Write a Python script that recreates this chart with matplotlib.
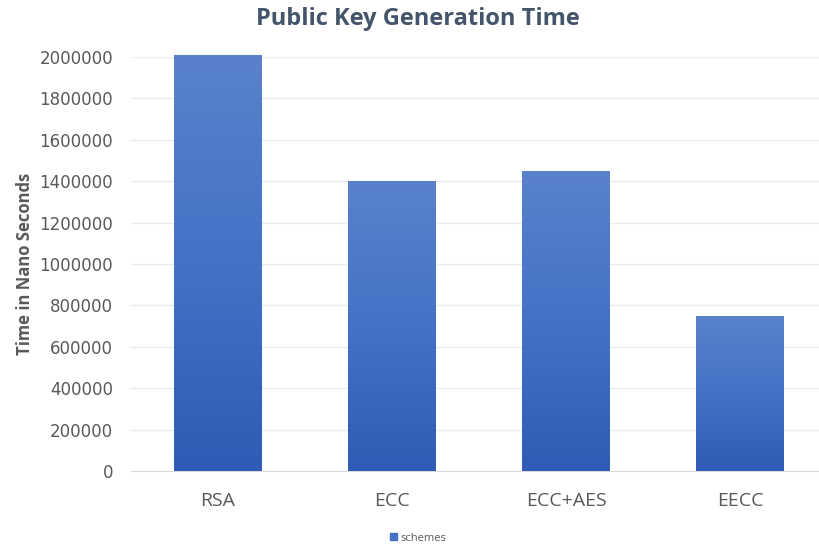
import numpy as np
import matplotlib
matplotlib.use("Agg")
import matplotlib.pyplot as plt
from matplotlib.colors import LinearSegmentedColormap
from matplotlib.patches import Patch

schemes = ["RSA", "ECC", "ECC+AES", "EECC"]
gen_time = [2010000, 1400000, 1450000, 750000]
yticks = list(range(0, 2000001, 200000))

plt.rcParams["font.family"] = ["Open Sans", "DejaVu Sans"]

fig = plt.figure(figsize=(8.2, 5.48), dpi=100)
ax = fig.add_axes([131/820, 1-471/548, 1-131/820, (471-57)/548*1.0])

x = np.arange(len(schemes))
bars = ax.bar(x, gen_time, width=0.505, color="#4472C4", zorder=2)

# vertical gradient inside each bar, lighter at the top
cmap = LinearSegmentedColormap.from_list("bar", ["#2E5CB6", "#4472C4", "#5A82CC"])
grad = np.linspace(0, 1, 256).reshape(-1, 1)
for b in bars:
    x0, y0 = b.get_x(), b.get_y()
    w, h = b.get_width(), b.get_height()
    im = ax.imshow(grad, cmap=cmap, origin="lower", aspect="auto",
                   extent=[x0, x0 + w, y0, y0 + h], zorder=3)
    im.set_clip_path(b)

ax.set_xlim(-0.5, 3.46)
ax.set_ylim(0, 2000000)
ax.set_yticks(yticks)
ax.set_yticklabels([str(v) for v in yticks], family="DejaVu Sans")
ax.set_xticks(x)
ax.set_xticklabels(schemes)
ax.tick_params(axis="y", length=0, pad=13, labelsize=12, labelcolor="#595959")
ax.tick_params(axis="x", length=0, pad=15, labelsize=14, labelcolor="#595959")
ax.grid(axis="y", color="#EBEBEB", lw=1, zorder=0)
for s in ["top", "right", "left"]:
    ax.spines[s].set_visible(False)
ax.spines["bottom"].set_color("#D9D9D9")

ax.set_ylabel("Time in Nano Seconds", fontsize=12, fontweight="bold", color="#595959", labelpad=4)
fig.text(0.51, 0.965, "Public Key Generation Time", ha="center", va="center",
         fontsize=17, fontweight="bold", color="#44546A")

fig.legend(handles=[Patch(color="#4472C4", label="schemes")], loc="center",
           bbox_to_anchor=(0.51, 0.018), frameon=False, fontsize=8,
           labelcolor="#595959", handlelength=0.6, handleheight=0.6, handletextpad=0.3)

fig.savefig("out.png", dpi=100)
